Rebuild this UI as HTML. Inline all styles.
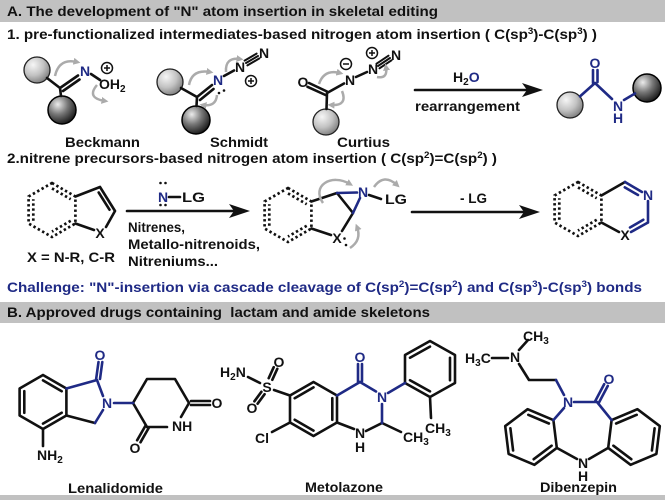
<!DOCTYPE html>
<html><head><meta charset="utf-8">
<style>
html,body{margin:0;padding:0;background:#fff;}
svg{display:block;}
text{font-family:"Liberation Sans",Arial,sans-serif;font-weight:bold;fill:#111;}
.a{font-size:14px;text-anchor:middle;}
.b{fill:#1f2a85;}
</style></head><body>
<svg width="667" height="500" viewBox="0 0 667 500" xmlns="http://www.w3.org/2000/svg">
<defs>
<radialGradient id="gl" cx="0.35" cy="0.3" r="0.75">
 <stop offset="0" stop-color="#f6f6f6"/>
 <stop offset="0.55" stop-color="#c2c2c2"/>
 <stop offset="1" stop-color="#7c7c7c"/>
</radialGradient>
<radialGradient id="gd" cx="0.35" cy="0.3" r="0.8">
 <stop offset="0" stop-color="#ececec"/>
 <stop offset="0.45" stop-color="#777"/>
 <stop offset="1" stop-color="#080808"/>
</radialGradient>
<marker id="ah" viewBox="0 0 10 10" refX="5" refY="5" markerWidth="7" markerHeight="7" markerUnits="userSpaceOnUse" orient="auto">
 <path d="M0,0 L10,5 L0,10 z" fill="#ababab"/>
</marker>
</defs>

<rect x="0" y="0" width="665" height="22" fill="#c1c1c1"/>
<rect x="0" y="302" width="665" height="21" fill="#c1c1c1"/>
<rect x="0" y="495" width="665" height="5" fill="#c1c1c1"/>

<text x="7" y="16" font-size="14" textLength="431" lengthAdjust="spacingAndGlyphs">A. The development of "N" atom insertion in skeletal editing</text>
<text x="7" y="39" font-size="14" textLength="590" lengthAdjust="spacingAndGlyphs">1. pre-functionalized intermediates-based nitrogen atom insertion ( C(sp<tspan font-size="9" dy="-5">3</tspan><tspan dy="5">)-C(sp</tspan><tspan font-size="9" dy="-5">3</tspan><tspan dy="5">) )</tspan></text>
<text x="7" y="163" font-size="14" textLength="490" lengthAdjust="spacingAndGlyphs">2.nitrene precursors-based nitrogen atom insertion ( C(sp<tspan font-size="9" dy="-5">2</tspan><tspan dy="5">)=C(sp</tspan><tspan font-size="9" dy="-5">2</tspan><tspan dy="5">) )</tspan></text>
<text x="7" y="292" font-size="14" class="b" textLength="635" lengthAdjust="spacingAndGlyphs">Challenge: "N"-insertion via cascade cleavage of C(sp<tspan font-size="9" dy="-5">2</tspan><tspan dy="5">)=C(sp</tspan><tspan font-size="9" dy="-5">2</tspan><tspan dy="5">) and C(sp</tspan><tspan font-size="9" dy="-5">3</tspan><tspan dy="5">)-C(sp</tspan><tspan font-size="9" dy="-5">3</tspan><tspan dy="5">) bonds</tspan></text>
<text x="7" y="317" font-size="14" textLength="423" lengthAdjust="spacingAndGlyphs">B. Approved drugs containing&#160; lactam and amide skeletons</text>

<text x="65" y="147" font-size="14" textLength="75" lengthAdjust="spacingAndGlyphs">Beckmann</text>
<text x="210" y="147" font-size="14" textLength="58" lengthAdjust="spacingAndGlyphs">Schmidt</text>
<text x="337" y="147" font-size="14" textLength="53" lengthAdjust="spacingAndGlyphs">Curtius</text>
<text x="68" y="493" font-size="14" textLength="95" lengthAdjust="spacingAndGlyphs">Lenalidomide</text>
<text x="305" y="492" font-size="14" textLength="78" lengthAdjust="spacingAndGlyphs">Metolazone</text>
<text x="540" y="492" font-size="14" textLength="77" lengthAdjust="spacingAndGlyphs">Dibenzepin</text>

<circle cx="37" cy="70" r="13" fill="url(#gl)" stroke="#222" stroke-width="1.3"/>
<circle cx="62" cy="110" r="14" fill="url(#gd)" stroke="#000" stroke-width="1.5"/>
<circle cx="170" cy="82" r="13" fill="url(#gl)" stroke="#222" stroke-width="1.3"/>
<circle cx="196" cy="120" r="14" fill="url(#gd)" stroke="#000" stroke-width="1.5"/>
<circle cx="326" cy="122" r="13" fill="url(#gl)" stroke="#222" stroke-width="1.3"/>
<circle cx="570" cy="105" r="13" fill="url(#gl)" stroke="#222" stroke-width="1.3"/>
<circle cx="647" cy="88" r="14" fill="url(#gd)" stroke="#000" stroke-width="1.5"/>

<g stroke="#111" stroke-width="2.6" fill="none" stroke-linecap="round">
 <path d="M47,78 L60,88 M60,88 L61,96 M60,88 L78,75.5 M63,91 L79.5,79.5 M91,74 L100,80"/>
 <path d="M181,88 L197,97 M197,97 L196.5,106 M197,97 L212,85 M200,100 L213.5,89 M224,76 L234,70.5"/>
 <path d="M246,63 L258,56 M244.6,60.6 L256.6,53.6 M247.4,65.4 L259.4,58.4" stroke-width="2"/>
 <path d="M309,83 L327,91.5 M307.5,86.8 L325.5,95 M327,93 L344,83.5 M327,93 L326.5,109 M356,77 L367,72"/>
 <path d="M378,66 L390,58 M376.5,63.7 L388.5,55.7 M379.5,68.3 L391.5,60.3" stroke-width="2"/>
 <path d="M415,90 L530,90"/>
</g>
<polygon points="543,90 522,83 527,90 522,97" fill="#111"/>

<g stroke="#111" stroke-width="1.5" fill="none">
 <circle cx="107" cy="68" r="5.5"/><path d="M104,68 H110 M107,65 V71"/>
 <circle cx="251" cy="81" r="5.5"/><path d="M248,81 H254 M251,78 V84"/>
 <circle cx="346" cy="64" r="5.5"/><path d="M343,64 H349"/>
 <circle cx="372" cy="53" r="5.5"/><path d="M369,53 H375 M372,50 V56"/>
</g>

<text class="a b" x="85" y="76">N</text>
<text x="99" y="89" font-size="14">OH<tspan font-size="10" dy="3">2</tspan></text>
<text class="a b" x="218" y="85">N</text>
<text class="a" x="240" y="72">N</text>
<text class="a" x="264" y="58">N</text>
<circle cx="219" cy="93" r="1.3" fill="#111"/><circle cx="224" cy="90.5" r="1.3" fill="#111"/>
<text class="a" x="303" y="87">O</text>
<text class="a" x="350" y="85">N</text>
<text class="a" x="373" y="74">N</text>
<text class="a" x="396" y="60">N</text>
<text x="453" y="82" font-size="14">H<tspan font-size="10" dy="3">2</tspan><tspan dy="-3" class="b">O</tspan></text>
<text x="415" y="111" font-size="14" textLength="105" lengthAdjust="spacingAndGlyphs">rearrangement</text>

<g stroke="#1f2a85" stroke-width="2.6" fill="none" stroke-linecap="round">
 <path d="M580,96.4 L595,83 M593,70 L593,83 M597.5,70 L597.5,82 M595,83 L612,99 M624,100 L635,93.5"/>
</g>
<text class="a b" x="595" y="68">O</text>
<text class="a b" x="618" y="111">N</text>
<text class="a b" x="618" y="123">H</text>

<g stroke="#ababab" stroke-width="2.5" fill="none" marker-end="url(#ah)">
 <path d="M55,76 Q59,58 77,62"/>
 <path d="M97,85 Q86,98 105,101"/>
 <path d="M189,85 Q192,69 210,72"/>
 <path d="M217,95 Q216,107 203,105"/>
 <path d="M226,72 Q225,57 240,59"/>
 <path d="M319,84 Q324,69 340,73"/>
 <path d="M342,91 Q348,106 331,105"/>
 <path d="M377,77 Q388,79 386,67"/>
</g>

<g stroke="#111" stroke-width="2.7" fill="none" stroke-dasharray="2.4 2.6">
 <polygon points="52,183 75.4,196.5 75.4,223.5 52,237 28.6,223.5 28.6,196.5"/>
 <path d="M52,188.4 L70.7,199.2 M70.7,220.8 L52,231.6 M33.3,220.8 L33.3,199.2"/>
 <polygon points="288,188 311.4,201.5 311.4,228.5 288,242 264.6,228.5 264.6,201.5"/>
 <path d="M288,193.4 L306.7,204.2 M306.7,225.8 L288,236.6 M269.3,225.8 L269.3,204.2"/>
 <polygon points="578,182 601.4,195.5 601.4,222.5 578,236 554.6,222.5 554.6,195.5"/>
 <path d="M578,187.4 L596.7,198.2 M596.7,219.8 L578,230.6 M559.3,219.8 L559.3,198.2"/>
</g>

<g stroke="#111" stroke-width="2.6" fill="none" stroke-linecap="round">
 <path d="M75.4,196.5 L100,187 M100,187 L115,211 M98.7,192.5 L109.5,209.7 M115,211 L106,227 M94,230 L75.4,223.5"/>
 <path d="M169,197 L180,197"/>
 <path d="M127,211 L236,211"/>
 <path d="M311.4,201.5 L337,193 M337,193 L353,213 M353,213 L342,231 M331,235 L311.4,228.5 M369,195 L381,199"/>
 <path d="M412,212 L527,212"/>
 <path d="M601.4,195.5 L625,182 M619,232 L601.4,222.5"/>
</g>
<polygon points="250,211 229,204 234,211 229,218" fill="#111"/>
<polygon points="540,212 519,205 524,212 519,219" fill="#111"/>

<g stroke="#1f2a85" stroke-width="2.6" fill="none" stroke-linecap="round">
 <path d="M337,193 L357,192.5 M360,198 L353,213"/>
 <path d="M625,182 L642,192 M624.8,187.4 L638,195 M648,201 L648,222.5 M648,222.5 L631,232 M643.3,219.8 L630,227.5"/>
</g>

<text class="a" x="100" y="238">X</text>
<text x="27" y="262" font-size="14" textLength="88" lengthAdjust="spacingAndGlyphs">X = N-R, C-R</text>
<text class="a b" x="163" y="202">N</text>
<circle cx="160.5" cy="183" r="1.3" fill="#111"/><circle cx="165.5" cy="183" r="1.3" fill="#111"/>
<circle cx="160.5" cy="205" r="1.3" fill="#111"/><circle cx="165.5" cy="205" r="1.3" fill="#111"/>
<text x="182" y="202" font-size="14" textLength="23" lengthAdjust="spacingAndGlyphs">LG</text>
<text x="128" y="232" font-size="13.5" textLength="57" lengthAdjust="spacingAndGlyphs">Nitrenes,</text>
<text x="128" y="249" font-size="13.5" textLength="132" lengthAdjust="spacingAndGlyphs">Metallo-nitrenoids,</text>
<text x="128" y="266" font-size="13.5" textLength="90" lengthAdjust="spacingAndGlyphs">Nitreniums...</text>

<text class="a" x="337" y="243">X</text>
<circle cx="344.5" cy="238.5" r="1.3" fill="#111"/><circle cx="346" cy="245" r="1.3" fill="#111"/>
<text class="a b" x="363" y="197">N</text>
<text x="385" y="204" font-size="14" textLength="22" lengthAdjust="spacingAndGlyphs">LG</text>
<text x="460" y="203" font-size="14" textLength="27" lengthAdjust="spacingAndGlyphs">- LG</text>
<text class="a b" x="648" y="200">N</text>
<text class="a" x="625" y="240">X</text>

<g stroke="#ababab" stroke-width="2.5" fill="none" marker-end="url(#ah)">
 <path d="M323,203 C311,186 331,173 350,184"/>
 <path d="M374,187 Q384,173 397,185"/>
 <path d="M350,248 Q362,240 357,227"/>
</g>

<g stroke="#111" stroke-width="2.6" fill="none" stroke-linecap="round" stroke-linejoin="round">
 <polygon points="43,375 66.4,388.5 66.4,415.5 43,429 19.6,415.5 19.6,388.5"/>
 <path d="M24.3,391.2 L24.3,412.8 M43,380.4 L61.7,391.2 M61.7,412.8 L43,423.6"/>
 <path d="M95,423 L66.4,415.5"/>
 <path d="M43,429 L43,446"/>
 <path d="M133,403 L147,379 L175,379 L189,403 M189,403 L181,417 M147,427 L167,427 M133,403 L147,427"/>
 <path d="M191,401 L210,401 M191,405 L210,405"/>
 <path d="M148.7,428 L140.5,442.3 M145.3,426 L137.1,440.3"/>
</g>
<g stroke="#1f2a85" stroke-width="2.6" fill="none" stroke-linecap="round">
 <path d="M66.4,388.5 L97,380 M96,380 L98.5,362 M100,379 L102.3,362 M97,380 L103,396 M103,410 L95,423 M114,403 L133,403"/>
</g>
<text class="a b" x="100" y="360">O</text>
<text class="a b" x="107" y="408">N</text>
<text class="a" x="217" y="408">O</text>
<text x="172" y="431" font-size="14">NH</text>
<text class="a" x="135" y="453">O</text>
<text x="37" y="460" font-size="14">NH<tspan font-size="10" dy="3">2</tspan></text>

<g stroke="#111" stroke-width="2.6" fill="none" stroke-linecap="round" stroke-linejoin="round">
 <polygon points="313.5,382 337,395.5 337,422.5 313.5,436 290,422.5 290,395.5"/>
 <path d="M294.7,398.2 L313.5,387.4 M332.3,398.2 L332.3,419.8 M294.7,419.8 L313.5,430.6"/>
 <path d="M290,395.5 L274,390 M248,377 L260,383"/>
 <path d="M268.7,378.2 L273.7,367.2 M272.3,379.8 L277.3,368.8"/>
 <path d="M264.6,394.2 L257.6,403.7 M261.4,391.8 L254.4,401.3"/>
 <path d="M290,422.5 L272,432"/>
 <path d="M382,423 L366,431 M354,429 L337,422.5 M382,423 L401,432"/>
 <polygon points="405,383 430,397 455,383 455,355 430,341 405,355"/>
 <path d="M410,380.2 L430,391.4 M450,380.2 L450,357.8 M430,346.6 L410,357.8"/>
 <path d="M430,397 L431,418"/>
</g>
<g stroke="#1f2a85" stroke-width="2.6" fill="none" stroke-linecap="round">
 <path d="M337,395.5 L360,382 M358,364 L358,382 M362,364 L362,381 M360,382 L376,391.5 M382,404 L382,423 M388,393 L405,383"/>
</g>
<text x="220" y="377" font-size="14">H<tspan font-size="10" dy="3">2</tspan><tspan dy="-3">N</tspan></text>
<text class="a" x="267" y="392">S</text>
<text class="a" x="279" y="367">O</text>
<text class="a" x="252" y="413">O</text>
<text x="255" y="443" font-size="14">Cl</text>
<text class="a b" x="360" y="362">O</text>
<text class="a b" x="382" y="402">N</text>
<text class="a" x="360" y="438">N</text>
<text class="a" x="360" y="452">H</text>
<text x="403" y="442" font-size="14">CH<tspan font-size="10" dy="3">3</tspan></text>
<text x="425" y="433" font-size="14">CH<tspan font-size="10" dy="3">3</tspan></text>

<g stroke="#111" stroke-width="2.6" fill="none" stroke-linecap="round" stroke-linejoin="round">
 <polygon points="553.4,420.1 556.8,447.9 534.4,464.8 508.6,453.9 505.2,426.1 527.6,409.2"/>
 <path d="M548.9,423.5 L528.3,414.8 M510.4,428.3 L513.1,450.5 M533.7,459.2 L551.6,445.7"/>
 <polygon points="611.6,420.1 608.2,447.9 630.6,464.8 656.4,453.9 659.8,426.1 637.4,409.2"/>
 <path d="M616.1,423.5 L636.7,414.8 M654.6,428.3 L651.9,450.5 M631.3,459.2 L613.4,445.7"/>
 <path d="M556.8,447.9 L577,459 M589,459 L608.2,447.9"/>
 <path d="M492,358 L508,358 M519,350 L528,340 M519,364 L529,380 L556,380"/>
</g>
<g stroke="#1f2a85" stroke-width="2.6" fill="none" stroke-linecap="round">
 <path d="M556,380 L564,395 M574,402 L597,402 M598.8,402.9 L607.8,385.9 M595.2,401.1 L604.2,384.1 M597,402 L611.6,420.1 M564,408 L553.4,420.1"/>
</g>
<text x="465" y="363" font-size="14">H<tspan font-size="10" dy="3">3</tspan><tspan dy="-3">C</tspan></text>
<text class="a" x="515" y="362">N</text>
<text x="523" y="341" font-size="14">CH<tspan font-size="10" dy="3">3</tspan></text>
<text class="a b" x="568" y="407">N</text>
<text class="a b" x="609" y="384">O</text>
<text class="a" x="583" y="468">N</text>
<text class="a" x="583" y="481">H</text>
</svg>
</body></html>
